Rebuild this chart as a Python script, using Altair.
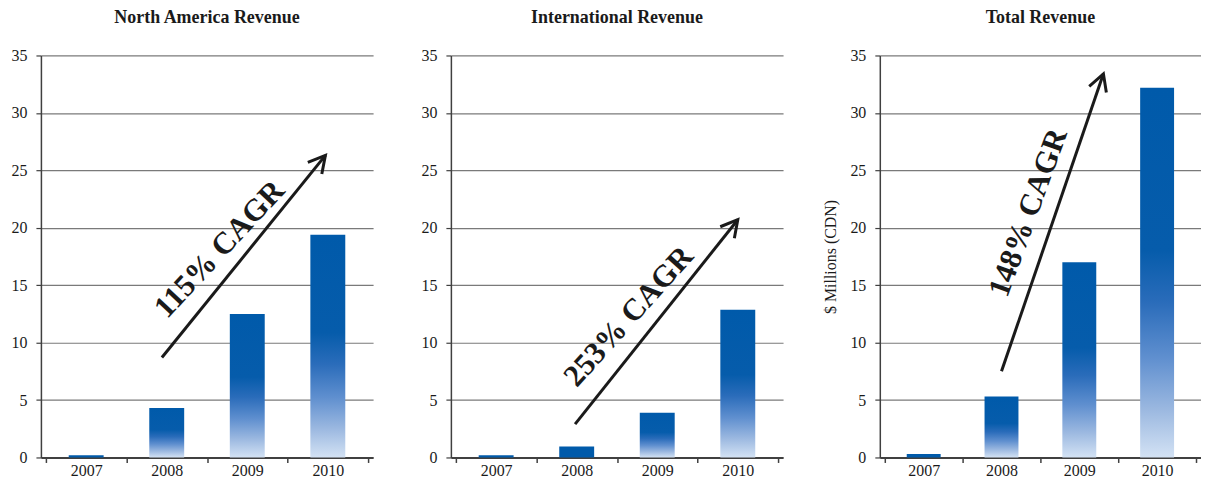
import altair as alt
import pandas as pd

SERIF = "Liberation Serif"
INK = "#1a1a1a"

# ---- data ----
years = [2007, 2008, 2009, 2010]
na_revenue = [0.2, 4.3, 12.5, 19.4]
intl_revenue = [0.2, 0.95, 3.9, 12.85]
total_revenue = [0.3, 5.3, 17.0, 32.2]

panel_titles = ["North America Revenue", "International Revenue", "Total Revenue"]
cagr_labels = ["115% CAGR", "253% CAGR", "148% CAGR"]

# arrow annotations (data coordinates: year, $M)
arrow_x = [2007.94, 2007.98, 2008.0]
arrow_y = [8.7, 2.9, 7.5]
arrow_x2 = [2009.97, 2010.0, 2009.31]
arrow_y2 = [26.3, 20.7, 33.4]
label_x = [2008.66, 2008.65, 2008.35]
label_y = [18.1, 12.25, 21.3]

y_ticks = [0, 5, 10, 15, 20, 25, 30, 35]
x_bounds = [2006.5, 2007.5, 2008.5, 2009.5, 2010.5]

# styles
label_angle = [313, 312, 290]
head_angle = [39.8, 39.3, 19.9]

gradient = alt.LinearGradient(
    gradient="linear", x1=0, y1=1, x2=0, y2=0,
    stops=[
        alt.GradientStop(offset=0, color="#d3e2f4"),
        alt.GradientStop(offset=0.13, color="#9bb8e0"),
        alt.GradientStop(offset=0.27, color="#5f8fcf"),
        alt.GradientStop(offset=0.42, color="#2a6cba"),
        alt.GradientStop(offset=0.56, color="#065cab"),
        alt.GradientStop(offset=1, color="#005aaa"),
    ],
)


def panel(i, values, width, bar_size, y_title=None):
    df = pd.DataFrame({"year": years, "value": values})
    ann = pd.DataFrame({
        "x": [arrow_x[i]], "y": [arrow_y[i]],
        "x2": [arrow_x2[i]], "y2": [arrow_y2[i]],
        "lx": [label_x[i]], "ly": [label_y[i]],
        "label": [cagr_labels[i]],
    })
    xscale = alt.Scale(domain=[2006.5, 2010.5], nice=False, zero=False)
    yscale = alt.Scale(domain=[0, 35], nice=False)

    yaxis_kw = dict(
        values=y_ticks, grid=True, gridColor="#7a7a7a", gridWidth=1.2,
        domainColor="#404040", domainWidth=1.5, tickColor="#404040",
        tickWidth=1.2, tickSize=5, labelPadding=9, labelFontSize=16,
        labelFont=SERIF, labelColor=INK, minExtent=33,
    )
    if y_title:
        yaxis = alt.Axis(title=y_title, titleFont=SERIF, titleFontSize=16,
                         titleFontWeight="normal", titleColor=INK,
                         titlePadding=8, **yaxis_kw)
    else:
        yaxis = alt.Axis(title=None, **yaxis_kw)

    tick_axis = alt.Axis(values=x_bounds, labels=False, ticks=True, tickSize=5,
                         tickColor="#404040", tickWidth=1.5, grid=False,
                         domain=True, domainColor="#404040", domainWidth=2,
                         title=None, orient="bottom")
    label_axis = alt.Axis(values=years, format="d", ticks=False, domain=False,
                          grid=False, labelFontSize=16, labelPadding=5,
                          labelFont=SERIF, labelColor=INK, title=None,
                          orient="bottom")

    base = alt.Chart(df)
    small = base.transform_filter("datum.value < 1.5").mark_bar(
        size=bar_size, color="#005aaa").encode(
        x=alt.X("year:Q", scale=xscale, axis=tick_axis),
        y=alt.Y("value:Q", scale=yscale, axis=yaxis),
    )
    big = base.transform_filter("datum.value >= 1.5").mark_bar(
        size=bar_size, color=gradient).encode(
        x=alt.X("year:Q", scale=xscale, axis=label_axis),
        y=alt.Y("value:Q", scale=yscale, axis=yaxis),
    )
    arrow = alt.Chart(ann).mark_rule(strokeWidth=3, color=INK).encode(
        x=alt.X("x:Q", scale=xscale, axis=None),
        y=alt.Y("y:Q", scale=yscale, axis=yaxis),
        x2="x2:Q", y2="y2:Q",
    )
    head = alt.Chart(ann).mark_point(
        shape="M-0.55,1L0,0L0.55,1", filled=False, strokeWidth=3,
        size=1100, color=INK, opacity=1, angle=head_angle[i],
    ).encode(
        x=alt.X("x2:Q", scale=xscale, axis=None),
        y=alt.Y("y2:Q", scale=yscale, axis=yaxis),
    )
    text = alt.Chart(ann).mark_text(
        font=SERIF, fontWeight="bold", fontSize=31, angle=label_angle[i],
        align="center", baseline="middle", color=INK,
    ).encode(
        x=alt.X("lx:Q", scale=xscale, axis=None),
        y=alt.Y("ly:Q", scale=yscale, axis=yaxis),
        text="label:N",
    )
    return alt.layer(small, big, arrow, head, text).resolve_axis(
        x="independent"
    ).properties(
        width=width, height=403,
        title=alt.TitleParams(panel_titles[i], font=SERIF, fontSize=18,
                              fontWeight="bold", color=INK, offset=21,
                              anchor="middle"),
    )


p1 = panel(0, na_revenue, 333, 35)
p2 = panel(1, intl_revenue, 333, 35)
p3 = panel(2, total_revenue, 322, 34, y_title="$ Millions (CDN)")

chart = alt.hconcat(
    alt.hconcat(p1, p2, spacing=45), p3, spacing=40
).properties(
    padding={"left": 0, "top": 0, "right": 0, "bottom": 0}
).configure_view(stroke=None)

chart.save("out.html", embed_options={"renderer": "svg", "actions": False})
